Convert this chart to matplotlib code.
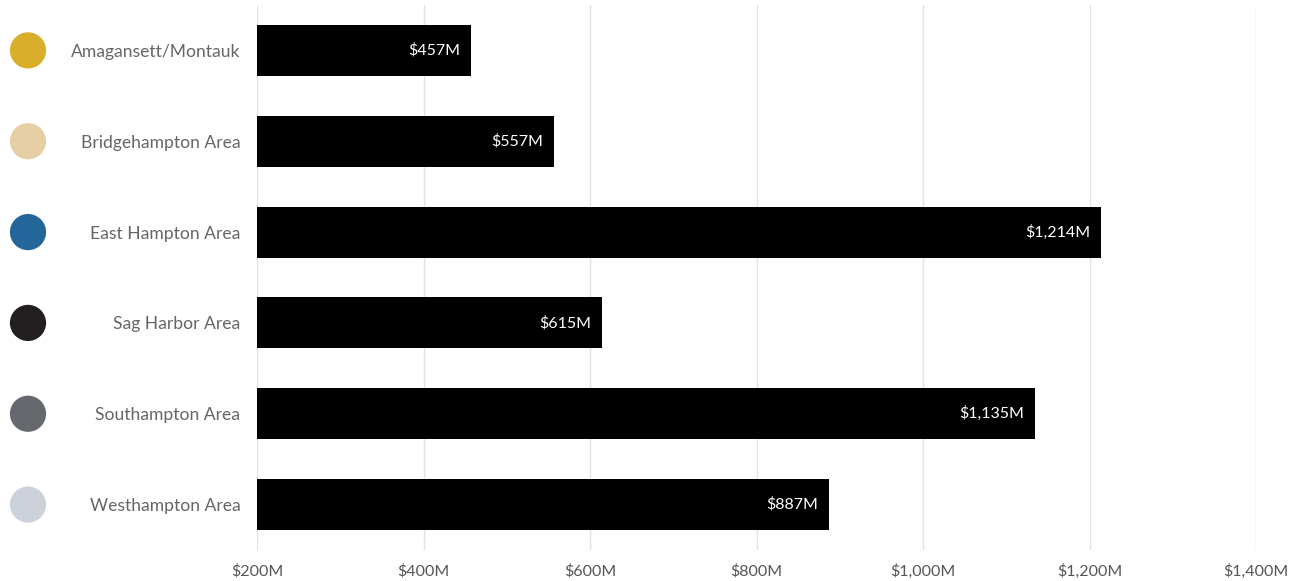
import matplotlib.pyplot as plt
import matplotlib.transforms as mtransforms

areas = ["Amagansett/Montauk", "Bridgehampton Area", "East Hampton Area",
         "Sag Harbor Area", "Southampton Area", "Westhampton Area"]
volume = [457, 557, 1214, 615, 1135, 887]  # $M
dot_colors = ["#D9AE2A", "#E6CFA5", "#23669A", "#231F20", "#65696E", "#CDD1D9"]
xticks = [200, 400, 600, 800, 1000, 1200, 1400]

plt.rcParams["font.family"] = ["Lato", "DejaVu Sans"]

fig = plt.figure(figsize=(13, 5.81), dpi=100)
ax = fig.add_axes([257 / 1300, 1 - 550 / 581, 999 / 1300, 545 / 581])

base = 200
ypos = list(range(len(areas)))
ax.barh(ypos, [v - base for v in volume], left=base, height=0.56, color="black", zorder=3)

for y, v in zip(ypos, volume):
    ax.text(v - 13, y, "${:,}M".format(v), color="white", fontsize=11.5,
            ha="right", va="center", zorder=4)

ax.set_xlim(200, 1400)
ax.set_ylim(len(areas) - 0.5, -0.5)
ax.set_xticks(xticks)
ax.set_xticklabels(["${:,}M".format(t) for t in xticks], color="#555555", fontsize=11.5)
ax.set_yticks(ypos)
ax.set_yticklabels(areas, color="#666666", fontsize=12.6)
ax.tick_params(axis="y", length=0, pad=12)
ax.tick_params(axis="x", length=0, pad=10)
ax.grid(axis="x", color="#E2E2E2", linewidth=1, zorder=0)
for s in ax.spines.values():
    s.set_visible(False)

# colored dots in the left margin
trans = mtransforms.blended_transform_factory(fig.transFigure, ax.transData)
ax.scatter([28 / 1300] * len(areas), ypos, s=680, c=dot_colors, transform=trans,
           clip_on=False, linewidths=0)

fig.savefig("out.png", dpi=100)
